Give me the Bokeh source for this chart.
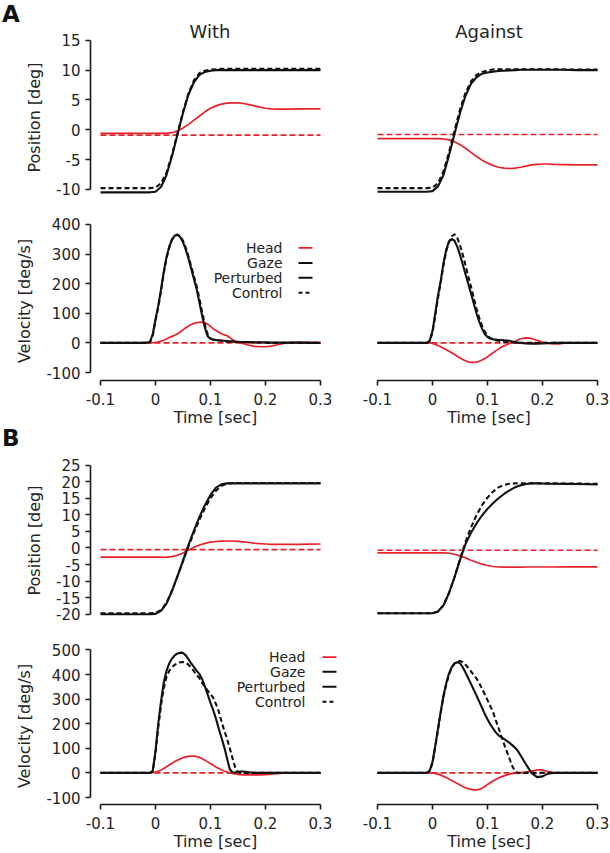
from bokeh.plotting import figure
from bokeh.layouts import column, row
from bokeh.models import Range1d, FixedTicker, ColumnDataSource, Title, Div
from bokeh.core.properties import value
from bokeh.embed import file_html
from bokeh.resources import INLINE

# ------------------------------------------------------------------ data
SECTIONS = ["A", "B"]
CONDITIONS = ["With", "Against"]
LEGEND_LABELS = ["Head", "Gaze", "Perturbed", "Control"]
X_TICKS = [-0.1, 0.0, 0.1, 0.2, 0.3]
X_TICK_LABELS = ["-0.1", "0", "0.1", "0.2", "0.3"]
A_POS_TICKS = [-10, -5, 0, 5, 10, 15]
A_VEL_TICKS = [-100, 0, 100, 200, 300, 400]
B_POS_TICKS = [-20, -15, -10, -5, 0, 5, 10, 15, 20, 25]
B_VEL_TICKS = [-100, 0, 100, 200, 300, 400, 500]

T_FLAT = [-0.1, 0.3]

T_POS = [-0.10, -0.05, -0.02, -0.01, 0.00, 0.01, 0.02, 0.03, 0.04, 0.05, 0.06,
         0.07, 0.08, 0.09, 0.10, 0.11, 0.12, 0.13, 0.14, 0.15, 0.16, 0.17,
         0.18, 0.19, 0.20, 0.21, 0.22, 0.24, 0.26, 0.28, 0.30]

T_VEL = [-0.100, -0.050, -0.020, -0.010, -0.005, 0.000, 0.005, 0.010, 0.015,
         0.020, 0.025, 0.030, 0.035, 0.040, 0.045, 0.050, 0.055, 0.060,
         0.065, 0.070, 0.075, 0.080, 0.085, 0.090, 0.095, 0.100, 0.105,
         0.110, 0.115, 0.120, 0.125, 0.130, 0.135, 0.140, 0.145, 0.150,
         0.155, 0.160, 0.170, 0.180, 0.190, 0.200, 0.210, 0.220, 0.230,
         0.240, 0.260, 0.280, 0.300]

# --- A, position
POS_A_WITH_GAZE_PERT = [-10.5, -10.5, -10.5, -10.5, -10.4, -9.6, -7.6, -4.4, -0.8, 2.8, 5.9,
                        8.0, 9.2, 9.7, 9.9, 10.0, 10.0, 10.0, 10.0, 10.0, 10.0, 10.0,
                        10.0, 10.0, 10.0, 10.0, 10.0, 10.0, 10.0, 10.0, 10.0]
POS_A_WITH_GAZE_CTRL = [-9.8, -9.8, -9.8, -9.8, -9.7, -9.0, -7.2, -4.2, -0.6, 3.0, 6.1,
                        8.3, 9.5, 9.9, 10.1, 10.15, 10.2, 10.2, 10.2, 10.2, 10.2, 10.2,
                        10.2, 10.2, 10.2, 10.2, 10.2, 10.2, 10.2, 10.2, 10.2]
POS_A_WITH_HEAD_PERT = [-0.6, -0.6, -0.6, -0.6, -0.6, -0.6, -0.6, -0.5, -0.2, 0.3, 0.9,
                        1.6, 2.3, 3.0, 3.6, 4.0, 4.3, 4.45, 4.5, 4.5, 4.4, 4.2,
                        4.0, 3.8, 3.6, 3.5, 3.45, 3.45, 3.5, 3.5, 3.5]
POS_A_WITH_HEAD_CTRL = [-0.9, -0.9]

POS_A_AGAINST_GAZE_PERT = [-10.4, -10.4, -10.4, -10.4, -10.3, -9.5, -7.6, -4.3, -0.7, 2.8, 5.7,
                           7.7, 8.8, 9.4, 9.6, 9.75, 9.85, 9.9, 9.95, 10.0, 10.05, 10.05,
                           10.05, 10.05, 10.05, 10.05, 10.05, 10.05, 10.0, 10.0, 10.0]
POS_A_AGAINST_GAZE_CTRL = [-9.8, -9.8, -9.8, -9.8, -9.7, -9.0, -7.0, -3.8, -0.2, 3.4, 6.2,
                           8.1, 9.2, 9.7, 9.95, 10.1, 10.15, 10.15, 10.15, 10.15, 10.15, 10.15,
                           10.15, 10.15, 10.15, 10.15, 10.15, 10.1, 10.1, 10.1, 10.1]
POS_A_AGAINST_HEAD_PERT = [-1.5, -1.5, -1.5, -1.5, -1.5, -1.5, -1.55, -1.7, -2.0, -2.5, -3.1,
                           -3.8, -4.5, -5.1, -5.6, -6.0, -6.3, -6.45, -6.5, -6.45, -6.3, -6.1,
                           -5.9, -5.8, -5.75, -5.75, -5.8, -5.85, -5.9, -5.9, -5.9]
POS_A_AGAINST_HEAD_CTRL = [-0.8, -0.8]

# --- B, position
POS_B_WITH_GAZE_PERT = [-20.0, -20.0, -20.0, -20.0, -19.9, -19.0, -16.8, -13.0, -8.5, -3.8, 0.9,
                        5.3, 9.4, 13.0, 16.0, 18.2, 19.2, 19.5, 19.5, 19.5, 19.5, 19.5,
                        19.5, 19.5, 19.5, 19.5, 19.5, 19.5, 19.5, 19.5, 19.5]
POS_B_WITH_GAZE_CTRL = [-19.7, -19.7, -19.7, -19.7, -19.6, -18.8, -16.6, -12.9, -8.5, -4.0, 0.5,
                        4.7, 8.6, 12.1, 15.0, 17.3, 18.8, 19.4, 19.6, 19.6, 19.6, 19.6,
                        19.6, 19.6, 19.6, 19.6, 19.6, 19.6, 19.6, 19.6, 19.6]
POS_B_WITH_HEAD_PERT = [-2.8, -2.8, -2.8, -2.8, -2.8, -2.8, -2.75, -2.6, -2.2, -1.5, -0.6,
                        0.2, 0.9, 1.4, 1.75, 1.95, 2.05, 2.1, 2.1, 2.0, 1.85, 1.65,
                        1.45, 1.3, 1.2, 1.1, 1.05, 1.05, 1.1, 1.15, 1.2]
POS_B_WITH_HEAD_CTRL = [-0.5, -0.5]

POS_B_AGAINST_GAZE_PERT = [-19.7, -19.7, -19.7, -19.7, -19.7, -19.2, -17.3, -13.6, -8.9, -3.6, 1.2,
                           4.6, 7.4, 9.8, 11.8, 13.5, 15.0, 16.3, 17.4, 18.3, 18.9, 19.3,
                           19.5, 19.5, 19.45, 19.4, 19.4, 19.35, 19.3, 19.25, 19.2]
POS_B_AGAINST_GAZE_CTRL = [-19.7, -19.7, -19.7, -19.7, -19.7, -19.2, -17.3, -13.6, -8.8, -3.4, 1.8,
                           6.2, 9.9, 12.9, 15.2, 17.0, 18.3, 19.0, 19.4, 19.5, 19.55, 19.55,
                           19.55, 19.55, 19.5, 19.5, 19.5, 19.45, 19.45, 19.4, 19.4]
POS_B_AGAINST_HEAD_PERT = [-1.5, -1.5, -1.5, -1.5, -1.5, -1.5, -1.5, -1.6, -1.9, -2.4, -3.0,
                           -3.7, -4.3, -4.9, -5.3, -5.6, -5.75, -5.8, -5.8, -5.8, -5.78, -5.75,
                           -5.75, -5.75, -5.75, -5.75, -5.75, -5.72, -5.7, -5.7, -5.7]
POS_B_AGAINST_HEAD_CTRL = [-0.7, -0.7]

# --- A, velocity
VEL_A_WITH_GAZE_PERT = [0, 0, 0, 3, 30, 80, 125, 180, 240, 290, 325, 350, 362, 365, 358, 340,
                        315, 285, 250, 215, 180, 135, 90, 50, 22, 14, 11, 10, 9, 8, 7, 6,
                        5, 5, 4, 4, 3, 3, 3, 2, 2, 2, 1, 1, 1, 1, 1, 0, 0]
VEL_A_WITH_GAZE_CTRL = [0, 0, 0, 2, 25, 75, 120, 175, 235, 285, 322, 348, 362, 366, 360, 345,
                        322, 292, 258, 224, 190, 148, 102, 60, 28, 15, 11, 9, 8, 7, 6, 5,
                        4, 4, 3, 3, 2, 2, 2, 1, 1, 0, 0, 0, 0, 0, 0, 0, 0]
VEL_A_WITH_HEAD_PERT = [0, 0, 0, 0, 0.5, 1.5, 3, 6, 9, 13, 18, 22, 26, 31, 37, 44,
                        51, 57, 62, 66, 68, 69.5, 70, 68, 63, 56, 48, 42, 36, 31, 27, 24,
                        18, 11, 6, 2, 0, -3, -8, -12, -13, -13, -11, -7, -3, 0, 1.5, 1.5, 1]
VEL_A_WITH_HEAD_CTRL = [0, 0]

VEL_A_AGAINST_GAZE_PERT = [0, 0, 0, 0, 8, 40, 100, 160, 210, 270, 315, 342, 351, 345, 325, 298,
                           265, 232, 200, 167, 133, 100, 72, 48, 30, 20, 15, 12, 11, 10, 10, 9,
                           8, 7, 5, 3, 1, 0, -2, -3, -3, -2, -1, 0, 0, 0, 0, 0, 0]
VEL_A_AGAINST_GAZE_CTRL = [0, 0, 0, 0, 6, 35, 92, 152, 205, 262, 310, 342, 360, 367, 355, 330,
                           298, 262, 225, 190, 152, 115, 85, 58, 38, 25, 16, 12, 9, 7, 5, 4,
                           3, 2, 2, 1, 1, 0, 0, 0, 0, 0, 0, 0, 0, 0, 0, 0, 0]
VEL_A_AGAINST_HEAD_PERT = [0, 0, 0, 0, 0, -2, -5, -9, -13, -18, -23, -28, -33, -39, -45, -51,
                           -56, -60, -64, -66, -66, -65, -62, -58, -53, -47, -40, -33, -27, -21, -15, -10,
                           -6, -2, 1, 5, 10, 14, 17, 15, 9, 3, -1, -3, -3, -1, 0, 0, 0]
VEL_A_AGAINST_HEAD_CTRL = [0, 0]

# --- B, velocity
VEL_B_WITH_GAZE_PERT = [0, 0, 0, 0, 8, 90, 200, 290, 368, 415, 445, 465, 478, 486, 489, 488,
                        478, 462, 445, 430, 415, 402, 380, 350, 318, 285, 255, 220, 180, 143, 105, 60,
                        15, 2, 3, 5, 6, 6, 3, 1, 0, 0, 0, 0, 0, 0, 0, 0, 0]
VEL_B_WITH_GAZE_CTRL = [0, 0, 0, 0, 6, 80, 185, 275, 345, 390, 415, 430, 440, 446, 450, 451,
                        448, 440, 428, 413, 398, 385, 365, 350, 335, 320, 305, 280, 250, 210, 172, 140,
                        100, 60, 22, 3, 0, 0, 0, 0, 0, 0, 0, 0, 0, 0, 0, 0, 0]
VEL_B_WITH_HEAD_PERT = [0, 0, 0, 0, 1, 3, 7, 12, 18, 25, 32, 39, 46, 52, 57, 62,
                        65, 67, 68, 68, 66, 63, 58, 52, 45, 38, 31, 24, 18, 13, 8, 4,
                        0, -2, -4, -6, -7, -8, -8, -8, -8, -7, -5, -3, -1, 0, 0, 0, 0]
VEL_B_WITH_HEAD_CTRL = [0, 0]

VEL_B_AGAINST_GAZE_PERT = [0, 0, 0, 0, 10, 45, 110, 180, 250, 315, 365, 405, 430, 445, 450, 446,
                           430, 408, 385, 362, 338, 315, 290, 265, 240, 218, 198, 181, 165, 153, 145, 138,
                           130, 122, 113, 103, 90, 72, 35, 0, -17, -14, -3, 0, 0, 0, 0, 0, 0]
VEL_B_AGAINST_GAZE_CTRL = [0, 0, 0, 0, 8, 40, 105, 175, 245, 310, 360, 400, 428, 445, 453, 455,
                           450, 440, 428, 413, 398, 384, 365, 343, 320, 296, 272, 248, 215, 183, 150, 118,
                           88, 58, 28, 6, 0, 0, 0, 0, 0, 0, 0, 0, 0, 0, 0, 0, 0]
VEL_B_AGAINST_HEAD_PERT = [0, 0, 0, 0, 0, 0, -2, -5, -9, -14, -19, -25, -31, -37, -43, -49,
                           -55, -60, -64, -67, -69, -69, -67, -62, -55, -47, -40, -33, -27, -21, -16, -12,
                           -8, -5, -3, -1, 0, 1, 3, 7, 12, 12, 5, 1, 0, 0, 0, 0, 0]
VEL_B_AGAINST_HEAD_CTRL = [0, 0]

CURVES = {
    ("pos", "A", "With"): (POS_A_WITH_HEAD_CTRL, POS_A_WITH_HEAD_PERT, POS_A_WITH_GAZE_CTRL, POS_A_WITH_GAZE_PERT),
    ("pos", "A", "Against"): (POS_A_AGAINST_HEAD_CTRL, POS_A_AGAINST_HEAD_PERT, POS_A_AGAINST_GAZE_CTRL, POS_A_AGAINST_GAZE_PERT),
    ("vel", "A", "With"): (VEL_A_WITH_HEAD_CTRL, VEL_A_WITH_HEAD_PERT, VEL_A_WITH_GAZE_CTRL, VEL_A_WITH_GAZE_PERT),
    ("vel", "A", "Against"): (VEL_A_AGAINST_HEAD_CTRL, VEL_A_AGAINST_HEAD_PERT, VEL_A_AGAINST_GAZE_CTRL, VEL_A_AGAINST_GAZE_PERT),
    ("pos", "B", "With"): (POS_B_WITH_HEAD_CTRL, POS_B_WITH_HEAD_PERT, POS_B_WITH_GAZE_CTRL, POS_B_WITH_GAZE_PERT),
    ("pos", "B", "Against"): (POS_B_AGAINST_HEAD_CTRL, POS_B_AGAINST_HEAD_PERT, POS_B_AGAINST_GAZE_CTRL, POS_B_AGAINST_GAZE_PERT),
    ("vel", "B", "With"): (VEL_B_WITH_HEAD_CTRL, VEL_B_WITH_HEAD_PERT, VEL_B_WITH_GAZE_CTRL, VEL_B_WITH_GAZE_PERT),
    ("vel", "B", "Against"): (VEL_B_AGAINST_HEAD_CTRL, VEL_B_AGAINST_HEAD_PERT, VEL_B_AGAINST_GAZE_CTRL, VEL_B_AGAINST_GAZE_PERT),
}

# ------------------------------------------------------------------ style / layout
FONT = "DejaVu Sans"
TXT = "#242424"
RED = "#e8202a"
BLACK = "#111111"
PX_PER_SEC = 550.0
X_START = X_TICKS[0] - 10 / PX_PER_SEC
LEFT_BORDER, LEFT_FRAME_W = 90, 250
RIGHT_BORDER, RIGHT_FRAME_W = 27, 243

ROW_SPECS = [
    dict(kind="pos", sec="A", y_lo=-11.2, y_hi=15.3, fh=158, top=16, bottom=10,
         ticks=A_POS_TICKS, ylabel="Position [deg]"),
    dict(kind="vel", sec="A", y_lo=-127, y_hi=410, fh=159, top=15, bottom=48,
         ticks=A_VEL_TICKS, ylabel="Velocity [deg/s]",
         legend=dict(xt=0.2309, x0=0.26, x1=0.2855, ys=[321, 270, 220, 169])),
    dict(kind="pos", sec="B", y_lo=-21, y_hi=25.5, fh=154, top=16, bottom=10,
         ticks=B_POS_TICKS, ylabel="Position [deg]"),
    dict(kind="vel", sec="B", y_lo=-128.4, y_hi=510, fh=157, top=20, bottom=48,
         ticks=B_VEL_TICKS, ylabel="Velocity [deg/s]",
         legend=dict(xt=0.2727, x0=0.3036, x1=0.329, ys=[471, 411, 350, 289])),
]


def style_axis(ax, ticks, labels):
    ax.ticker = FixedTicker(ticks=ticks)
    ax.major_label_overrides = dict(zip(ticks, labels))
    ax.bounds = (ticks[0], ticks[-1])
    ax.axis_line_width = 1.6
    ax.axis_line_color = "#1a1a1a"
    ax.major_tick_line_width = 1.6
    ax.major_tick_line_color = "#1a1a1a"
    ax.major_tick_out = 5
    ax.major_tick_in = 0
    ax.minor_tick_out = 0
    ax.minor_tick_in = 0
    ax.major_label_text_font = FONT
    ax.major_label_text_font_size = "15px"
    ax.major_label_text_color = TXT
    ax.axis_label_text_font = FONT
    ax.axis_label_text_font_size = "16px"
    ax.axis_label_text_font_style = "normal"
    ax.axis_label_text_color = TXT


def make_fig(spec, col):
    fw = LEFT_FRAME_W if col == 0 else RIGHT_FRAME_W
    bl = LEFT_BORDER if col == 0 else RIGHT_BORDER
    is_vel = spec["kind"] == "vel"
    p = figure(frame_width=fw, frame_height=spec["fh"],
               x_range=Range1d(X_START, X_START + fw / PX_PER_SEC),
               y_range=Range1d(spec["y_lo"], spec["y_hi"]),
               x_axis_location="below" if is_vel else None,
               y_axis_location="left" if col == 0 else None,
               output_backend="svg", toolbar_location=None, title=None,
               min_border_left=bl, min_border_right=0,
               min_border_top=spec["top"], min_border_bottom=spec["bottom"],
               outline_line_color=None, background_fill_color="white",
               border_fill_color="white")
    p.xgrid.visible = False
    p.ygrid.visible = False
    if is_vel:
        ax = p.xaxis[0]
        style_axis(ax, X_TICKS, X_TICK_LABELS)
        ax.axis_label = "Time [sec]"
        ax.major_label_standoff = 7
        ax.axis_label_standoff = 0
    if col == 0:
        ay = p.yaxis[0]
        style_axis(ay, spec["ticks"], [str(v) for v in spec["ticks"]])
        ay.axis_label = spec["ylabel"]
        ay.major_label_standoff = 5
        ay.axis_label_standoff = 9
    return p


def draw_curves(p, spec, cond):
    t = T_VEL if spec["kind"] == "vel" else T_POS
    head_ctrl, head_pert, gaze_ctrl, gaze_pert = CURVES[(spec["kind"], spec["sec"], cond)]
    p.line(T_FLAT, head_ctrl, line_color=RED, line_width=1.7, line_dash="6 3")
    p.line(t, head_pert, line_color=RED, line_width=1.7)
    p.line(t, gaze_ctrl, line_color=BLACK, line_width=2.1, line_dash="5 3")
    p.line(t, gaze_pert, line_color=BLACK, line_width=2.1)


def add_legend(p, lg):
    src = ColumnDataSource(dict(x=[lg["xt"]] * len(LEGEND_LABELS), y=lg["ys"], text=LEGEND_LABELS))
    p.text(x="x", y="y", text="text", source=src, text_font=value(FONT),
           text_font_size=value("14px"), text_align="right", text_baseline="middle",
           text_color=TXT)
    styles = [(RED, 1.8, "solid"), (BLACK, 2.0, "solid"), (BLACK, 2.0, "solid"), (BLACK, 2.0, "4 3")]
    for yv, (c, w, d) in zip(lg["ys"], styles):
        p.line([lg["x0"], lg["x1"]], [yv, yv], line_color=c, line_width=w, line_dash=d)


def letter_div(letter, height, top):
    html = ('<div style="position:relative;width:40px;height:%dpx;">'
            '<span style="position:absolute;left:2px;top:%dpx;font-family:\'DejaVu Sans\';'
            'font-weight:bold;font-size:23px;line-height:23px;color:#111111;">%s</span></div>'
            % (height, top, letter))
    return Div(text=html, width=40, height=height, margin=0)


items = []
for spec in ROW_SPECS:
    if spec["kind"] == "pos":
        items.append(letter_div(spec["sec"], 22 if spec["sec"] == "A" else 18,
                                3 if spec["sec"] == "A" else -2))
    figs = []
    for col, cond in enumerate(CONDITIONS):
        p = make_fig(spec, col)
        draw_curves(p, spec, cond)
        if spec["kind"] == "pos" and spec["sec"] == "A":
            if col == 0:
                t = Title(text=cond, align="left", offset=99, standoff=-7)
            else:
                t = Title(text=cond, align="center", standoff=-7)
            t.text_font = FONT
            t.text_font_size = "18px"
            t.text_font_style = "normal"
            t.text_color = TXT
            p.add_layout(t, "above")
        if spec["kind"] == "vel" and col == 0:
            add_legend(p, spec["legend"])
        figs.append(p)
    items.append(row(*figs))

layout = column(*items)
open("out.html", "w").write(file_html(layout, INLINE, title="Head and gaze"))
